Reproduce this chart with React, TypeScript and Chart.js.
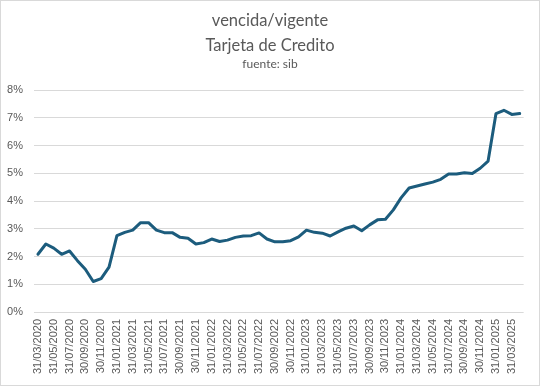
import React, { useEffect, useRef } from "react";
import { Chart, registerables } from "chart.js";

Chart.register(...registerables);

const TITLE_LINES = ["vencida/vigente", "Tarjeta de Credito"];
const SUBTITLE = "fuente: sib";

const dates = [
  "31/03/2020", "30/04/2020", "31/05/2020", "30/06/2020", "31/07/2020", "31/08/2020", "30/09/2020", "31/10/2020", "30/11/2020", "31/12/2020",
  "31/01/2021", "28/02/2021", "31/03/2021", "30/04/2021", "31/05/2021", "30/06/2021", "31/07/2021", "31/08/2021", "30/09/2021", "31/10/2021", "30/11/2021", "31/12/2021",
  "31/01/2022", "28/02/2022", "31/03/2022", "30/04/2022", "31/05/2022", "30/06/2022", "31/07/2022", "31/08/2022", "30/09/2022", "31/10/2022", "30/11/2022", "31/12/2022",
  "31/01/2023", "28/02/2023", "31/03/2023", "30/04/2023", "31/05/2023", "30/06/2023", "31/07/2023", "31/08/2023", "30/09/2023", "31/10/2023", "30/11/2023", "31/12/2023",
  "31/01/2024", "29/02/2024", "31/03/2024", "30/04/2024", "31/05/2024", "30/06/2024", "31/07/2024", "31/08/2024", "30/09/2024", "31/10/2024", "30/11/2024", "31/12/2024",
  "31/01/2025", "28/02/2025", "31/03/2025", "30/04/2025",
];

const ratio = [
  2.08, 2.45, 2.30, 2.08, 2.20, 1.85, 1.54, 1.10, 1.20, 1.62,
  2.75, 2.87, 2.95, 3.22, 3.22, 2.95, 2.86, 2.86, 2.69, 2.66, 2.45, 2.50,
  2.63, 2.54, 2.59, 2.69, 2.74, 2.75, 2.85, 2.63, 2.53, 2.53, 2.57, 2.71,
  2.95, 2.87, 2.84, 2.74, 2.89, 3.02, 3.10, 2.93, 3.14, 3.32, 3.34, 3.68,
  4.12, 4.47, 4.54, 4.61, 4.68, 4.78, 4.97, 4.97, 5.02, 4.99, 5.18, 5.44,
  7.15, 7.27, 7.12, 7.15,
];

const Y_MIN = 0;
const Y_MAX = 8;
const Y_STEP = 1;

const TEXT = "#595959";
const GRID = "#D9D9D9";
const LINE = "#1C5C7D";
const AXIS_FONT = "'Liberation Sans', Arial, sans-serif";
const TITLE_FONT = "Lato, 'Liberation Sans', sans-serif";

const framePlugin = {
  id: "frame",
  beforeDraw(chart: any) {
    const { ctx, width, height } = chart;
    ctx.save();
    ctx.fillStyle = "#FFFFFF";
    ctx.fillRect(0, 0, width, height);
    ctx.strokeStyle = GRID;
    ctx.lineWidth = 1;
    ctx.strokeRect(0.5, 0.5, width - 1, height - 1);
    ctx.restore();
  },
};

const titlePlugin = {
  id: "titles",
  afterDraw(chart: any) {
    const { ctx, width } = chart;
    ctx.save();
    ctx.fillStyle = TEXT;
    ctx.textAlign = "center";
    ctx.textBaseline = "alphabetic";
    ctx.font = `16.5px ${TITLE_FONT}`;
    ctx.fillText(TITLE_LINES[0], width / 2, 26);
    ctx.fillText(TITLE_LINES[1], width / 2, 51);
    ctx.font = `12px ${TITLE_FONT}`;
    ctx.fillText(SUBTITLE, width / 2, 68);
    ctx.restore();
  },
};

export default function App() {
  const ref = useRef<HTMLCanvasElement>(null);

  useEffect(() => {
    document.body.style.margin = "0";
    const chart = new Chart(ref.current as HTMLCanvasElement, {
      type: "line",
      data: {
        labels: dates,
        datasets: [
          {
            data: ratio,
            borderColor: LINE,
            borderWidth: 3,
            pointRadius: 0,
            tension: 0,
            fill: false,
            borderJoinStyle: "round",
            borderCapStyle: "round",
          },
        ],
      },
      options: {
        responsive: false,
        animation: false,
        layout: { padding: { top: 90, right: 14, bottom: 0, left: 0 } },
        plugins: {
          legend: { display: false },
          tooltip: { enabled: false },
          title: { display: false },
        },
        scales: {
          x: {
            offset: true,
            grid: { display: false, drawTicks: false },
            border: { display: false },
            ticks: {
              autoSkip: false,
              maxRotation: 90,
              minRotation: 90,
              padding: 7,
              color: TEXT,
              font: { family: AXIS_FONT, size: 11 },
              callback: (_v: any, i: number) => (i % 2 === 0 ? dates[i] : ""),
            },
            afterFit: (s: any) => {
              s.height = 74;
            },
          },
          y: {
            min: Y_MIN,
            max: Y_MAX,
            grid: { color: GRID, lineWidth: 1, drawTicks: false },
            border: { display: false },
            ticks: {
              stepSize: Y_STEP,
              padding: 11,
              color: TEXT,
              font: { family: AXIS_FONT, size: 11 },
              callback: (v: any) => `${v}%`,
            },
            afterFit: (s: any) => {
              s.width = 34;
            },
          },
        },
      },
      plugins: [framePlugin, titlePlugin],
    });
    return () => chart.destroy();
  }, []);

  return <canvas ref={ref} width={540} height={386} style={{ display: "block" }} />;
}
